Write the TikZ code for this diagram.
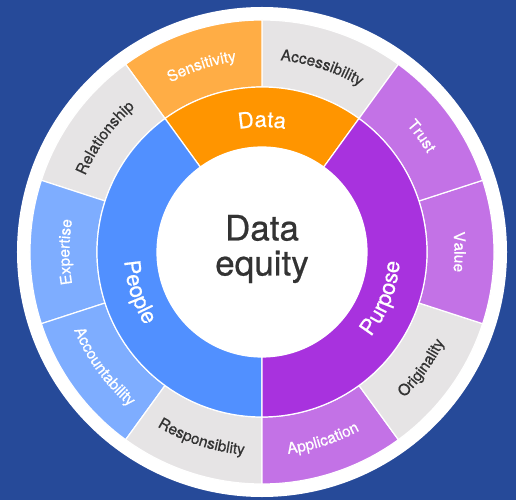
\documentclass[tikz,border=0pt]{standalone}
\usepackage{fontspec}
\setmainfont{TeX Gyre Heros}
\newfontfamily\medfont[FakeBold=0.6]{TeX Gyre Heros}
\usetikzlibrary{decorations.text}

\definecolor{bgblue}{HTML}{264A99}
\definecolor{dataorange}{HTML}{FF9500}
\definecolor{datalight}{HTML}{FFAD45}
\definecolor{purposepurple}{HTML}{A832DE}
\definecolor{purposelight}{HTML}{C372E6}
\definecolor{peopleblue}{HTML}{5190FF}
\definecolor{peoplelight}{HTML}{7EADFF}
\definecolor{ringgray}{HTML}{E6E4E5}
\definecolor{textdark}{HTML}{333333}

\newcommand{\bigfont}{\medfont\fontsize{35}{35}\selectfont}
\newcommand{\midfont}{\medfont\fontsize{22}{26}\selectfont}
\newcommand{\smallfont}{\medfont\fontsize{15.5}{18}\selectfont}

\tikzset{
  wedge/.style={draw=white, line width=1.2pt},
}

% start angle, end angle, inner radius, outer radius, fill
\newcommand{\ringwedge}[5]{\filldraw[wedge, fill=#5] (#1:#3) arc[start angle=#1, end angle=#2, radius=#3] -- (#2:#4) arc[start angle=#2, end angle=#1, radius=#4] -- cycle;}
% text along an arc, read clockwise (tops outward)
\newcommand{\toplabel}[4]{\path[decorate, decoration={text along path, text align=center, text={|#3|#4}}] ({#1+40}:#2) arc[start angle={#1+40}, end angle={#1-40}, radius=#2];}
% text along an arc, read counterclockwise (tops inward)
\newcommand{\botlabel}[4]{\path[decorate, decoration={text along path, text align=center, text={|#3|#4}}] ({#1-40}:#2) arc[start angle={#1-40}, end angle={#1+40}, radius=#2];}

\begin{document}
\begin{tikzpicture}[x=1pt, y=1pt]
    \fill[bgblue] (-262,-248) rectangle (254,252);
    \useasboundingbox (-262,-248) rectangle (254,252);
    \fill[white] (0,0) circle[radius=245];

    % outer ring
    \ringwedge{54}{90}{165}{232}{ringgray}
    \ringwedge{90}{126}{165}{232}{datalight}
    \ringwedge{126}{162}{165}{232}{ringgray}
    \ringwedge{162}{198}{165}{232}{peoplelight}
    \ringwedge{198}{234}{165}{232}{peoplelight}
    \ringwedge{234}{270}{165}{232}{ringgray}
    \ringwedge{270}{306}{165}{232}{purposelight}
    \ringwedge{306}{342}{165}{232}{ringgray}
    \ringwedge{-18}{18}{165}{232}{purposelight}
    \ringwedge{18}{54}{165}{232}{purposelight}

    % inner ring
    \ringwedge{54}{126}{105}{165}{dataorange}
    \ringwedge{126}{270}{105}{165}{peopleblue}
    \ringwedge{-90}{54}{105}{165}{purposepurple}
    \fill[white] (0,0) circle[radius=105];

    \toplabel{72}{192.5}{\smallfont\color{textdark}}{Accessibility}
    \toplabel{108}{192.5}{\smallfont\color{white}}{Sensitivity}
    \toplabel{144}{192.5}{\smallfont\color{textdark}}{Relationship}
    \toplabel{180}{192.5}{\smallfont\color{white}}{Expertise}
    \botlabel{216}{203.5}{\smallfont\color{white}}{Accountability}
    \botlabel{252}{203.5}{\smallfont\color{textdark}}{Responsiblity}
    \botlabel{288}{203.5}{\smallfont\color{white}}{Application}
    \botlabel{324}{203.5}{\smallfont\color{textdark}}{Originality}
    \toplabel{0}{192.5}{\smallfont\color{white}}{Value}
    \toplabel{36}{192.5}{\smallfont\color{white}}{Trust}

    \toplabel{90}{125}{\midfont\color{white}}{Data}
    \botlabel{198}{138}{\midfont\color{white}}{People}
    \botlabel{-21}{138}{\midfont\color{white}}{Purpose}

    \node (equity) [text=textdark, align=center, font=\bigfont] at (0,3) {Data\\equity};
\end{tikzpicture}
\end{document}
